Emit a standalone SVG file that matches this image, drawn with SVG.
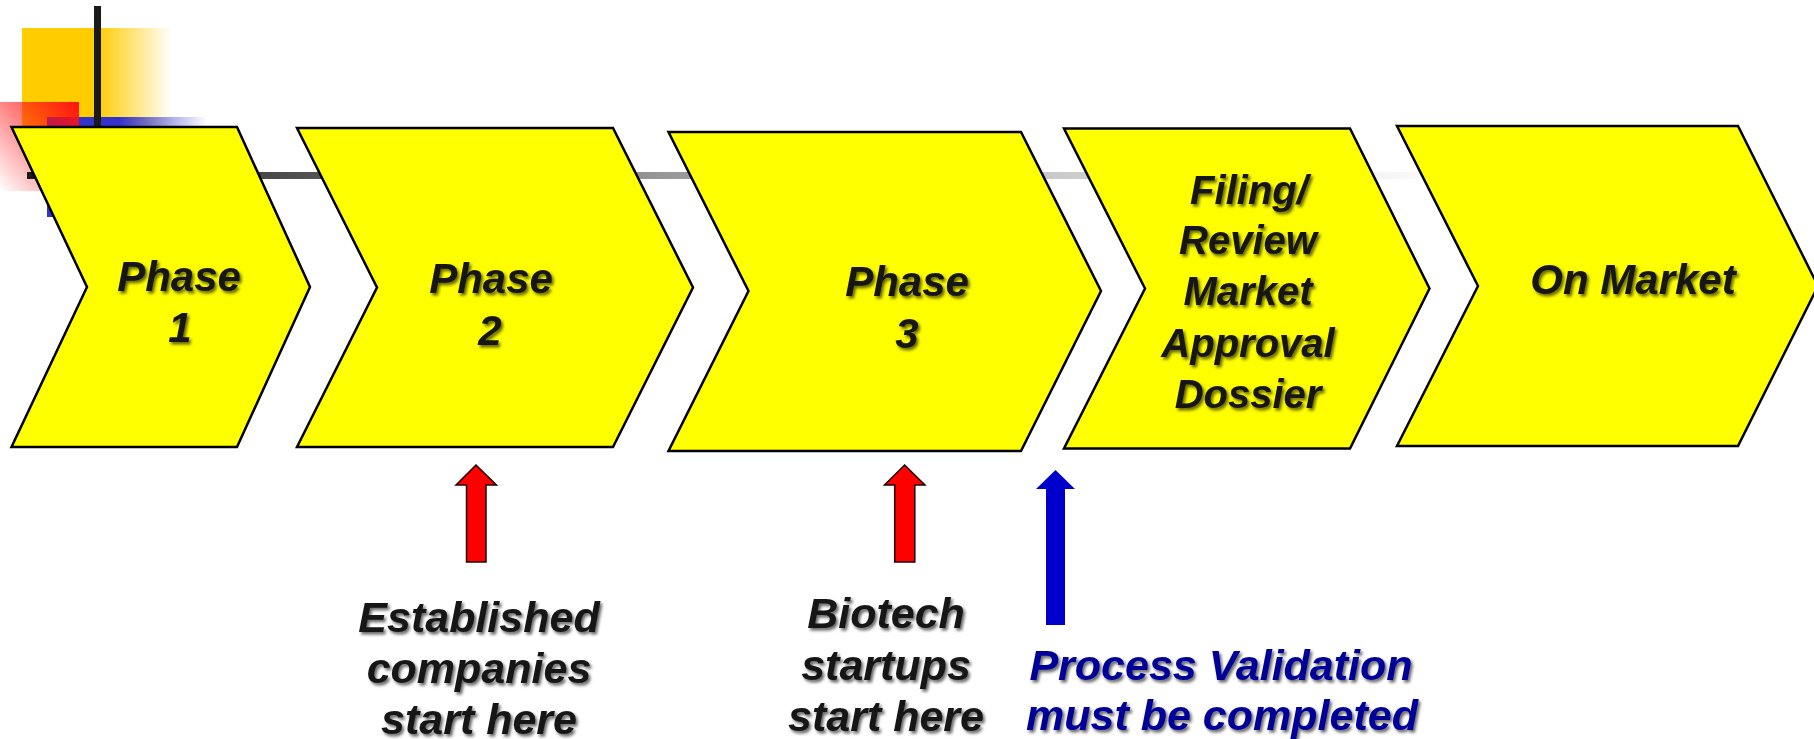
<svg xmlns="http://www.w3.org/2000/svg" width="1814" height="739" viewBox="0 0 1814 739">
  <defs>
    <linearGradient id="gOrange" x1="0" y1="0" x2="1" y2="0">
      <stop offset="0" stop-color="#ffcc00"/>
      <stop offset="0.5" stop-color="#ffcc00"/>
      <stop offset="1" stop-color="#ffcc00" stop-opacity="0"/>
    </linearGradient>
    <linearGradient id="gRed" x1="1" y1="0" x2="0" y2="1">
      <stop offset="0" stop-color="#ff1111"/>
      <stop offset="1" stop-color="#ff1111" stop-opacity="0"/>
    </linearGradient>
    <linearGradient id="gBlue" x1="0" y1="0" x2="1" y2="0">
      <stop offset="0" stop-color="#3333cc"/>
      <stop offset="0.45" stop-color="#3333cc"/>
      <stop offset="1" stop-color="#3333cc" stop-opacity="0"/>
    </linearGradient>
    <linearGradient id="gRule" gradientUnits="userSpaceOnUse" x1="27" y1="0" x2="1460" y2="0">
      <stop offset="0" stop-color="#1a1a1a"/>
      <stop offset="0.45" stop-color="#999999"/>
      <stop offset="0.75" stop-color="#d0d0d0"/>
      <stop offset="1" stop-color="#ffffff"/>
    </linearGradient>
    <filter id="shadow" x="-10%" y="-30%" width="120%" height="160%">
      <feDropShadow dx="2" dy="2.5" stdDeviation="1.4" flood-color="#000000" flood-opacity="0.6"/>
    </filter>
  </defs>
  <style>
    .chev { fill: #ffff00; stroke: #000000; stroke-width: 2.5; stroke-linejoin: miter; }
    .lbl { font-family: "Liberation Sans", Arial, sans-serif; font-weight: bold; font-style: italic; text-anchor: middle; fill: #151515; filter: url(#shadow); }
    .big { font-size: 42px; }
    .mid { font-size: 40px; }
    .low { font-size: 43px; }
    .blue { fill: #000099; }
    .redArrow { fill: #ff0000; stroke: #1a0000; stroke-width: 1.5; }
    .blueArrow { fill: #0000cc; }
  </style>
  <rect width="1814" height="739" fill="#ffffff"/>

  <!-- corner ornament -->
  <g id="ornament">
    <rect x="22" y="28" width="150" height="100" fill="url(#gOrange)"/>
    <rect x="47" y="117" width="160" height="100" fill="url(#gBlue)"/>
    <rect x="0" y="102" width="79" height="89" fill="url(#gRed)"/>
    <rect x="94" y="6" width="7" height="122" fill="#1a1a1a"/>
    <rect x="27" y="172" width="1433" height="7" fill="url(#gRule)"/>
  </g>

  <!-- process chevrons -->
  <g id="phase1">
    <polygon class="chev" points="11.5,127 237,127 310,287 237,447 11.5,447 87,287"/>
    <text class="lbl big" x="179" y="291">Phase</text>
    <text class="lbl big" x="180" y="342">1</text>
  </g>
  <g id="phase2">
    <polygon class="chev" points="297,128 613,128 693,287.5 613,447 297,447 377,287.5"/>
    <text class="lbl big" x="491" y="293">Phase</text>
    <text class="lbl big" x="490" y="345">2</text>
  </g>
  <g id="phase3">
    <polygon class="chev" points="668.5,132 1021,132 1101,291 1021,451 668.5,451 748.5,291"/>
    <text class="lbl big" x="907" y="296">Phase</text>
    <text class="lbl big" x="907" y="348">3</text>
  </g>
  <g id="filing">
    <polygon class="chev" points="1064,128.5 1350,128.5 1429.5,288.5 1350,448.5 1064,448.5 1145,288.5"/>
    <text class="lbl mid" x="1249" y="204">Filing/</text>
    <text class="lbl mid" x="1248" y="254">Review</text>
    <text class="lbl mid" x="1248" y="305">Market</text>
    <text class="lbl mid" x="1248" y="357">Approval</text>
    <text class="lbl mid" x="1248" y="408">Dossier</text>
  </g>
  <g id="market">
    <polygon class="chev" points="1397,126 1738,126 1818,286 1738,446 1397,446 1478,286"/>
    <text class="lbl big" x="1633" y="294">On Market</text>
  </g>

  <!-- entry-point arrows -->
  <g id="connectors">
    <polygon class="redArrow" points="476,465 496.5,485 486,485 486,562 466.5,562 466.5,485 456,485"/>
    <polygon class="redArrow" points="904.6,465 925,485 914.8,485 914.8,562 894.7,562 894.7,485 884.5,485"/>
    <polygon class="blueArrow" points="1055.5,470 1075,489 1065,489 1065,625 1046,625 1046,489 1036,489"/>
  </g>

  <g id="established">
    <text class="lbl low" x="479" y="632">Established</text>
    <text class="lbl low" x="479" y="683">companies</text>
    <text class="lbl low" x="479" y="734">start here</text>
  </g>
  <g id="biotech">
    <text class="lbl low" x="886" y="628">Biotech</text>
    <text class="lbl low" x="886" y="680">startups</text>
    <text class="lbl low" x="886" y="731">start here</text>
  </g>
  <g id="validation">
    <text class="lbl low blue" x="1221" y="680">Process Validation</text>
    <text class="lbl low blue" x="1222" y="730">must be completed</text>
  </g>
</svg>
